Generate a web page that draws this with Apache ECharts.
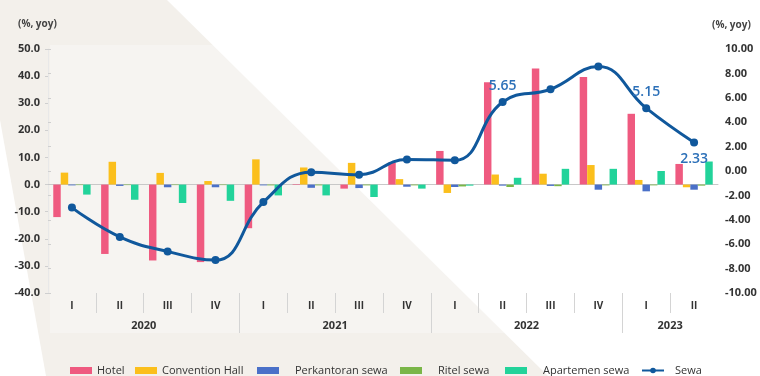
<!DOCTYPE html>
<html>
<head>
<meta charset="utf-8">
<style>
  html, body { margin: 0; padding: 0; background: #ffffff; }
  #chart { width: 760px; height: 376px; }
</style>
<script src="https://cdn.jsdelivr.net/npm/echarts@6/dist/echarts.min.js"></script>
</head>
<body>
<div id="chart"></div>
<script>
// Quarterly growth of accommodation & rental sub-sectors (%, yoy)
const quarters = ['I', 'II', 'III', 'IV', 'I', 'II', 'III', 'IV', 'I', 'II', 'III', 'IV', 'I', 'II'];
const years = ['2020', '2021', '2022', '2023'];
const yearQuarterCounts = [4, 4, 4, 2];

const hotel       = [-12.0, -25.6, -28.0, -28.6, -16.1, 0.2, -1.5, 8.1, 12.4, 37.7, 42.8, 39.7, 26.1, 7.6];
const convention  = [4.4, 8.4, 4.3, 1.3, 9.3, 6.3, 8.0, 2.0, -3.1, 3.7, 4.0, 7.2, 1.7, -1.0];
const perkantoran = [-0.3, -0.5, -1.0, -1.0, -0.3, -1.2, -1.3, -0.8, -0.9, -0.4, -0.5, -1.9, -2.5, -1.9];
const ritel       = [-0.2, -0.2, -0.2, -0.2, -0.3, -0.3, -0.3, -0.3, -0.7, -0.9, -0.6, -0.3, -0.3, -0.4];
const apartemen   = [-3.7, -5.6, -6.8, -6.0, -4.0, -4.0, -4.6, -1.5, -0.4, 2.5, 5.8, 5.8, 5.0, 8.5];
const sewa        = [-3.0, -5.4, -6.6, -7.3, -2.55, -0.1, -0.3, 0.95, 0.88, 5.65, 6.7, 8.56, 5.15, 2.33];

// points of the Sewa line that carry a value label
const sewaLabelled = { 9: 'top', 12: 'top', 13: 'bottom' };

const leftTicks = { min: -40, max: 50, interval: 10 };
const rightTicks = { min: -10, max: 10, interval: 2 };

const FONT = '"Open Sans", "DejaVu Sans", sans-serif';
const colors = {
  hotel: '#ef5a80',
  convention: '#fbbf1c',
  perkantoran: '#4a70c8',
  ritel: '#7ab648',
  apartemen: '#22d39a',
  sewa: '#10589c'
};

const categoryKeys = quarters.map((q, i) => {
  let acc = 0;
  for (let y = 0; y < years.length; y++) {
    if (i < acc + yearQuarterCounts[y]) return years[y] + ' ' + q;
    acc += yearQuarterCounts[y];
  }
  return q;
});

// positions on the 0..N helper scale used for the two label rows
const n = quarters.length;
const quarterCentres = quarters.map((q, i) => i + 0.5);
const quarterBounds = quarters.slice(1).map((q, i) => i + 1);
const yearCentres = [];
const yearBounds = [];
{
  let acc = 0;
  yearQuarterCounts.forEach((c, i) => {
    yearCentres.push(acc + c / 2);
    acc += c;
    if (i < yearQuarterCounts.length - 1) yearBounds.push(acc);
  });
}

const chart = echarts.init(document.getElementById('chart'), null, { renderer: 'canvas' });

function barSeries(name, data, color) {
  return {
    name, type: 'bar', data, xAxisIndex: 0, yAxisIndex: 0,
    itemStyle: { color },
    barGap: '0%', barCategoryGap: '22%',
    z: 2
  };
}

function legendAt(name, left, icon, pad) {
  return {
    data: [name], left, top: 360, icon,
    itemWidth: 22, itemHeight: 7,
    textStyle: { fontFamily: FONT, fontSize: 11, color: '#333', padding: [0, 0, 0, pad] },
    selectedMode: false
  };
}

const option = {
  backgroundColor: '#ffffff',
  animation: false,
  textStyle: { fontFamily: FONT },
  graphic: [
    {
      type: 'polygon', z: -10, silent: true,
      shape: { points: [[0, 0], [167, 0], [548, 376], [46, 376], [0, 120]] },
      style: { fill: '#f3f0eb' }
    },
    {
      type: 'rect', z: -9, silent: true,
      shape: { x: 50, y: 45, width: 670, height: 288 },
      style: { fill: 'rgba(255,255,255,0.3)' }
    }
  ],
  title: [
    { text: '(%, yoy)', left: 13, top: 14, textStyle: { fontFamily: FONT, fontSize: 10, fontWeight: 'bold', color: '#444' } },
    { text: '(%, yoy)', left: 707, top: 15, textStyle: { fontFamily: FONT, fontSize: 10, fontWeight: 'bold', color: '#444' } }
  ],
  legend: [
    legendAt('Hotel', 65, 'rect', 0),
    legendAt('Convention Hall', 130, 'rect', 0),
    legendAt('Perkantoran sewa', 252, 'rect', 11),
    legendAt('Ritel sewa', 395, 'rect', 11),
    legendAt('Apartemen sewa', 500, 'rect', 11),
    legendAt('Sewa', 636, null, 6)
  ],
  grid: { left: 48, right: 42, top: 49, bottom: 83, containLabel: false },
  xAxis: [
    {
      type: 'category', data: categoryKeys, position: 'bottom',
      axisLine: { show: true, onZero: true, onZeroAxisIndex: 0, lineStyle: { color: '#c8c8c8', width: 1 } },
      axisTick: { show: false },
      axisLabel: { show: false },
      splitLine: { show: false }
    },
    {
      type: 'value', min: 0, max: n, position: 'bottom',
      axisLine: { show: false, onZero: false },
      splitLine: { show: false },
      axisTick: { show: true, customValues: quarterBounds, length: 20, lineStyle: { color: '#d4d4d4' } },
      axisLabel: {
        show: true, customValues: quarterCentres, margin: 8,
        fontFamily: FONT, fontSize: 10, fontWeight: 'bold', color: '#333',
        formatter: v => quarters[Math.floor(v)] || ''
      }
    },
    {
      type: 'value', min: 0, max: n, position: 'bottom',
      axisLine: { show: false, onZero: false },
      splitLine: { show: false },
      axisTick: { show: true, customValues: yearBounds, length: 40, lineStyle: { color: '#d4d4d4' } },
      axisLabel: {
        show: true, customValues: yearCentres, margin: 27,
        fontFamily: FONT, fontSize: 11, fontWeight: 'bold', color: '#333',
        formatter: v => years[yearCentres.indexOf(v)] || ''
      }
    }
  ],
  yAxis: [
    {
      type: 'value', position: 'left', ...leftTicks,
      axisLine: { show: true, lineStyle: { color: '#e8e8e8' } },
      axisTick: { show: true, length: 3, lineStyle: { color: '#cfcfcf' } },
      splitLine: { show: false },
      axisLabel: {
        margin: 8, fontFamily: FONT, fontSize: 11, fontWeight: 'bold', color: '#333',
        formatter: v => v.toFixed(1)
      }
    },
    {
      type: 'value', position: 'right', ...rightTicks,
      axisLine: { show: false },
      axisTick: { show: true, length: 3, lineStyle: { color: '#cfcfcf' } },
      splitLine: { show: false },
      axisLabel: {
        margin: 7, fontFamily: FONT, fontSize: 11, fontWeight: 'bold', color: '#333',
        formatter: v => v.toFixed(2)
      }
    }
  ],
  series: [
    barSeries('Hotel', hotel, colors.hotel),
    barSeries('Convention Hall', convention, colors.convention),
    barSeries('Perkantoran sewa', perkantoran, colors.perkantoran),
    barSeries('Ritel sewa', ritel, colors.ritel),
    barSeries('Apartemen sewa', apartemen, colors.apartemen),
    {
      name: 'Sewa', type: 'line', xAxisIndex: 0, yAxisIndex: 1,
      smooth: 0.45,
      symbol: 'circle', symbolSize: 8,
      lineStyle: { color: colors.sewa, width: 3 },
      itemStyle: { color: colors.sewa },
      z: 5,
      data: sewa.map((v, i) => sewaLabelled[i]
        ? {
            value: v,
            label: {
              show: true, position: sewaLabelled[i], distance: 5,
              fontFamily: FONT, fontSize: 14, fontWeight: 600, color: '#2c70b8',
              formatter: p => p.value.toFixed(2)
            }
          }
        : v)
    }
  ]
};

chart.setOption(option);
</script>
</body>
</html>
